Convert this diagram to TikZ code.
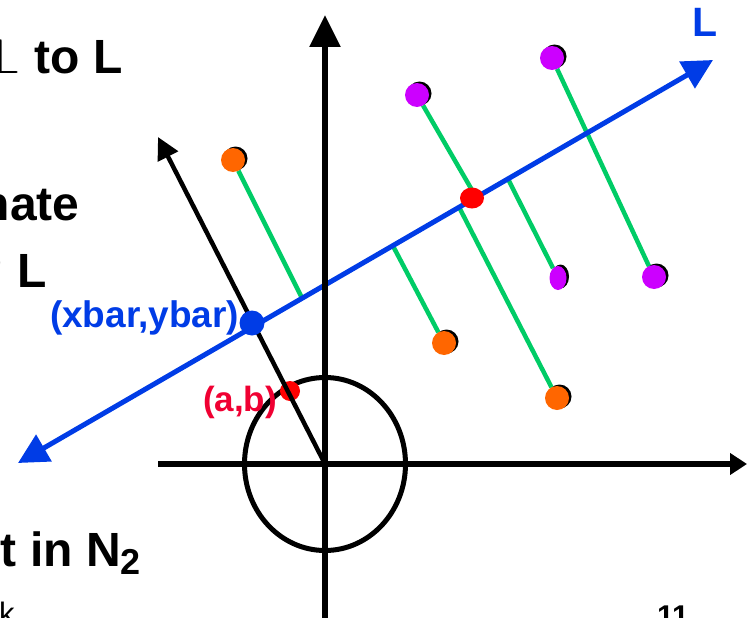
\documentclass[tikz,border=0pt]{standalone}
\usepackage{fontspec}
\setmainfont{Liberation Sans}
\usetikzlibrary{positioning,arrows.meta,shapes.geometric,shadows,backgrounds}
\definecolor{lblue}{RGB}{0,60,230}
\definecolor{ptorange}{RGB}{255,102,0}
\definecolor{ptpurple}{RGB}{204,0,255}
\definecolor{prjgreen}{RGB}{0,204,102}
\definecolor{abred}{RGB}{240,0,50}

\begin{document}
\begin{tikzpicture}[
  x=1pt,y=-1pt,
  >={Triangle[length=30pt,width=30pt]},
  every node/.style={inner sep=0pt,outer sep=0pt},
  axis/.style={line width=5.5pt},
  Lline/.style={line width=5pt,draw=lblue},
  proj/.style={line width=4.5pt,draw=prjgreen},
  nvec/.style={line width=4.5pt,-{Triangle[length=22pt,width=22pt]}},
  datapt/.style={circle,minimum size=24pt,general shadow={fill=black,shadow xshift=2.5pt,shadow yshift=1.5pt}},
  slidetext/.style={font=\fontsize{48}{48}\selectfont\bfseries},
  labl/.style={font=\fontsize{37}{37}\selectfont\bfseries,anchor=base west}
]

\useasboundingbox (0,0) rectangle (747,618);
\clip (0,0) rectangle (747,618);

% Slide text, cut off at the page edges
\node[slidetext,anchor=base west] (t1) at (-18,74)   {\resizebox{!}{35pt}{$\perp$} to L};
\node[slidetext,anchor=base east] (t2) at (79.5,220) {nate};
\node[slidetext,anchor=base east] (t3) at (46.5,287) {g L};
\node[slidetext,anchor=base west] (t4) at (1,566)
  {t in N\raisebox{-8pt}{\fontsize{36}{36}\selectfont 2}};
\node[font=\fontsize{31}{31}\selectfont,anchor=base west] (t5) at (-1,624) {k};
\node[font=\fontsize{30}{30}\selectfont\bfseries,anchor=base west] (t6) at (657,626) {11};

% Axes, line L and projection feet
\coordinate (O)   at (325,464);
\coordinate (xl)  at (158,464);
\coordinate (xr)  at (747,464);
\coordinate (yb)  at (325,625);
\coordinate (yt)  at (325,15);
\coordinate (nrm) at (158,137);
\coordinate (Lw)  at (18,463);
\coordinate (Le)  at (713,60);

\coordinate (f1) at (302,298);
\coordinate (f2) at (476,197);
\coordinate (f3) at (459,207);
\coordinate (f4) at (508,179);
\coordinate (f5) at (587,133);
\coordinate (f6) at (393,246);

% Data points
\node[datapt,fill=ptorange] (o1) at (233,160) {};
\node[datapt,fill=ptorange] (o2) at (557,398) {};
\node[datapt,fill=ptorange] (o3) at (444,343) {};
\node[datapt,fill=ptpurple] (p1) at (417,95)  {};
\node[datapt,fill=ptpurple] (p2) at (552,58)  {};
\node[datapt,fill=ptpurple,ellipse,minimum width=17pt,minimum height=24pt] (p3) at (558,278) {};
\node[datapt,fill=ptpurple] (p4) at (654,277) {};

% Mean point and centre point on L
\node[ellipse,fill=red,minimum width=24pt,minimum height=21pt] (mid) at (472,198) {};
\node[circle,fill=lblue,minimum size=25pt] (mean) at (252,323) {};

\begin{scope}[on background layer]
  % Projections onto L
  \draw[proj] (o1) -- (f1);
  \draw[proj] (p1) -- (f2);
  \draw[proj] (f3) -- (o2);
  \draw[proj] (f4) -- (p3);
  \draw[proj] (p2) -- (f5) -- (p4);
  \draw[proj] (f6) -- (o3);
  \draw[Lline,<->] (Lw) -- (Le);

  % Axes and unit circle
  \draw[axis,-{Triangle[length=17pt,width=21pt]}] (xl) -- (xr);
  \draw[axis,-{Triangle[length=32pt,width=30pt]}] (yb) -- (yt);
  \draw[line width=5pt] (O) ellipse [x radius=80.5,y radius=86.5];
  \node[circle,fill=red,minimum size=20pt] (ab) at (290,391) {};
  \draw[nvec] (O) -- (nrm);
\end{scope}

% Labels
\node[labl,text=lblue] (meanlab) at (50,327) {(xbar,ybar)};
\node[labl,font=\fontsize{35}{35}\selectfont\bfseries,text=abred] (ablab) at (203,411) {(a,b)};
\node[labl,font=\fontsize{41}{41}\selectfont\bfseries,text=lblue] (Llab) at (692,37) {L};

\end{tikzpicture}
\end{document}
